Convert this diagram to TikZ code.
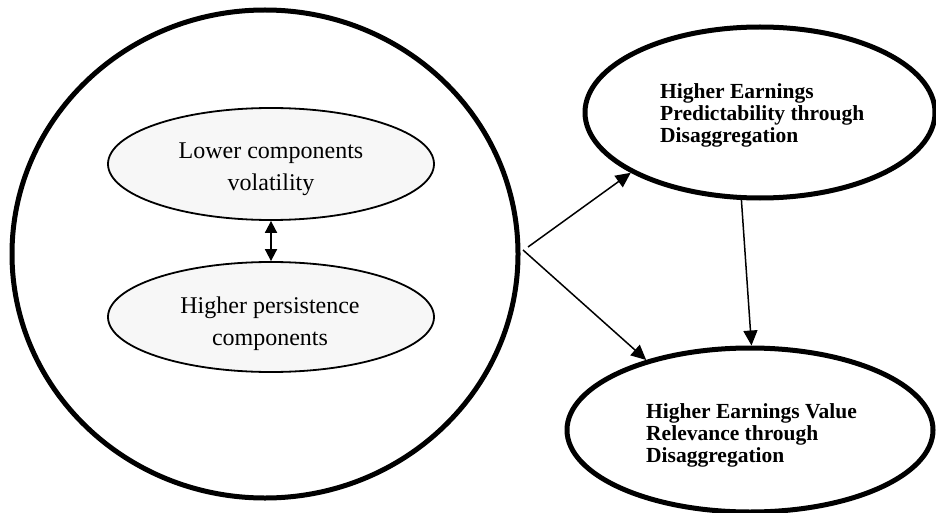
\documentclass[tikz,border=0pt]{standalone}
\usepackage{fontspec}
\setmainfont{Liberation Serif}
\usetikzlibrary{shapes.geometric,arrows.meta}
\begin{document}
\begin{tikzpicture}[x=1pt,y=-1pt,
  outerell/.style={draw, ellipse, line width=5pt, inner sep=0pt},
  innerell/.style={draw, ellipse, line width=1.8pt, fill=black!3, inner sep=0pt},
  conn/.style={line width=1.5pt, -{Triangle[length=15pt,width=14pt]}},
  dblconn/.style={line width=1.8pt, {Triangle[length=12pt,width=12pt]}-{Triangle[length=12pt,width=12pt]}},
  innertxt/.style={inner sep=0pt, anchor=north, align=center, font=\fontsize{24}{32}\selectfont},
  outertxt/.style={inner sep=0pt, anchor=north west, align=left, font=\fontsize{21.5}{22}\selectfont\bfseries}]
\useasboundingbox (0,0) rectangle (936,513);
\fill[white] (0,0) rectangle (936,513);

% big circle
\node[outerell, minimum width=506pt, minimum height=488pt] (big) at (265,254) {};

% inner ellipses
\node[innerell, minimum width=326pt, minimum height=112pt] (vol) at (271,164) {};
\node[innerell, minimum width=326pt, minimum height=110pt] (pers) at (271,317) {};
\node[innertxt] (voltxt) at (271,142.1) {Lower components\\volatility};
\node[innertxt] (perstxt) at (270,296.6) {Higher persistence\\components};
\draw[dblconn] (vol.south) -- (pers.north);

% right ellipses
\node[outerell, minimum width=350pt, minimum height=171pt] (pred) at (760,112.5) {};
\node[outerell, minimum width=366pt, minimum height=164pt] (value) at (750,430) {};
\node[outertxt] (predtxt) at (660,83.5) {Higher Earnings\\Predictability through\\Disaggregation};
\node[outertxt] (valuetxt) at (646,403.5) {Higher Earnings Value\\Relevance through\\Disaggregation};

% connectors
\coordinate (s1) at (528,247);
\coordinate (s2) at (523,250);
\draw[conn] (s1) -- (pred.205);
\draw[conn] (s2) -- (value.146);
\draw[conn] (pred.258) -- (value.89);
\end{tikzpicture}
\end{document}
